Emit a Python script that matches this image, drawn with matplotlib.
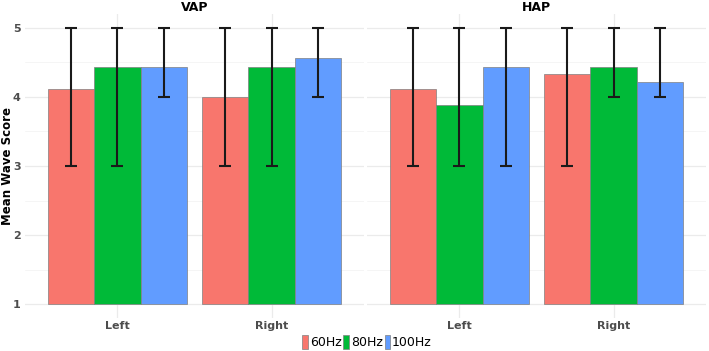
import numpy as np
import matplotlib
matplotlib.use("Agg")
import matplotlib.pyplot as plt
from matplotlib.patches import Patch

# data
sides = ["Left", "Right"]
freqs = ["60Hz", "80Hz", "100Hz"]
colors = ["#F8766D", "#00BA38", "#619CFF"]

vap_mean = [[4.11, 4.00], [4.44, 4.44], [4.44, 4.56]]
vap_low = [[3, 3], [3, 3], [4, 4]]
vap_high = [[5, 5], [5, 5], [5, 5]]

hap_mean = [[4.11, 4.33], [3.89, 4.44], [4.44, 4.22]]
hap_low = [[3, 3], [3, 4], [3, 4]]
hap_high = [[5, 5], [5, 5], [5, 5]]

panels = [("VAP", vap_mean, vap_low, vap_high), ("HAP", hap_mean, hap_low, hap_high)]

W, H = 709, 351
fig = plt.figure(figsize=(W / 100, H / 100), dpi=100)

# panel boxes in pixels: left, top, right, bottom
boxes = [(25, 14, 364, 318), (367, 14, 706, 318)]
x = np.arange(len(sides)) + 1
bw = 0.3

for k, (name, mean, low, high) in enumerate(panels):
    l, t, r, b = boxes[k]
    ax = fig.add_axes([l / W, 1 - b / H, (r - l) / W, (b - t) / H])
    for i in range(len(freqs)):
        xs = x + (i - 1) * bw
        m = np.array(mean[i])
        ax.bar(xs, m - 1, bottom=1, width=bw, color=colors[i],
               edgecolor="#808080", linewidth=0.5, zorder=2)
        lo = m - np.array(low[i])
        hi = np.array(high[i]) - m
        ax.errorbar(xs, m, yerr=[lo, hi], fmt="none", ecolor="#1a1a1a",
                    elinewidth=1.5, capsize=4, capthick=1.5, zorder=3)
    ax.set_xlim(0.4, 2.6)
    ax.set_ylim(0.8, 5.2)
    ax.set_yticks([1, 2, 3, 4, 5])
    ax.set_yticks([1.5, 2.5, 3.5, 4.5], minor=True)
    ax.set_xticks(x)
    ax.set_xticklabels(sides, fontsize=8, fontweight="bold", color="#4d4d4d")
    ax.grid(which="major", color="#ebebeb", linewidth=0.9, zorder=0)
    ax.grid(which="minor", axis="y", color="#f2f2f2", linewidth=0.5, zorder=0)
    ax.tick_params(axis="x", length=0, pad=2)
    ax.tick_params(which="minor", length=0)
    for s in ax.spines.values():
        s.set_visible(False)
    if k == 0:
        ax.set_yticklabels(["1", "2", "3", "4", "5"], fontsize=8,
                           fontweight="bold", color="#4d4d4d")
        ax.tick_params(axis="y", length=0, pad=3)
        ax.set_ylabel("Mean Wave Score", fontsize=8.5, fontweight="bold")
        ax.yaxis.set_label_coords((14 - l) / (r - l), 0.5)
    else:
        ax.tick_params(axis="y", length=0)
        ax.set_yticklabels([])
    ax.set_axisbelow(True)
    ax.set_title(name, fontsize=9, fontweight="bold", pad=2)

handles = [Patch(facecolor=c, edgecolor="#808080", linewidth=0.5) for c in colors]
fig.legend(handles, freqs, loc="center", bbox_to_anchor=(367 / W, 1 - 342 / H),
           ncol=3, frameon=False, fontsize=9, handlelength=0.45, handleheight=1.3,
           handletextpad=0.15, columnspacing=0.15, borderpad=0)

fig.savefig("out.png", dpi=100)
